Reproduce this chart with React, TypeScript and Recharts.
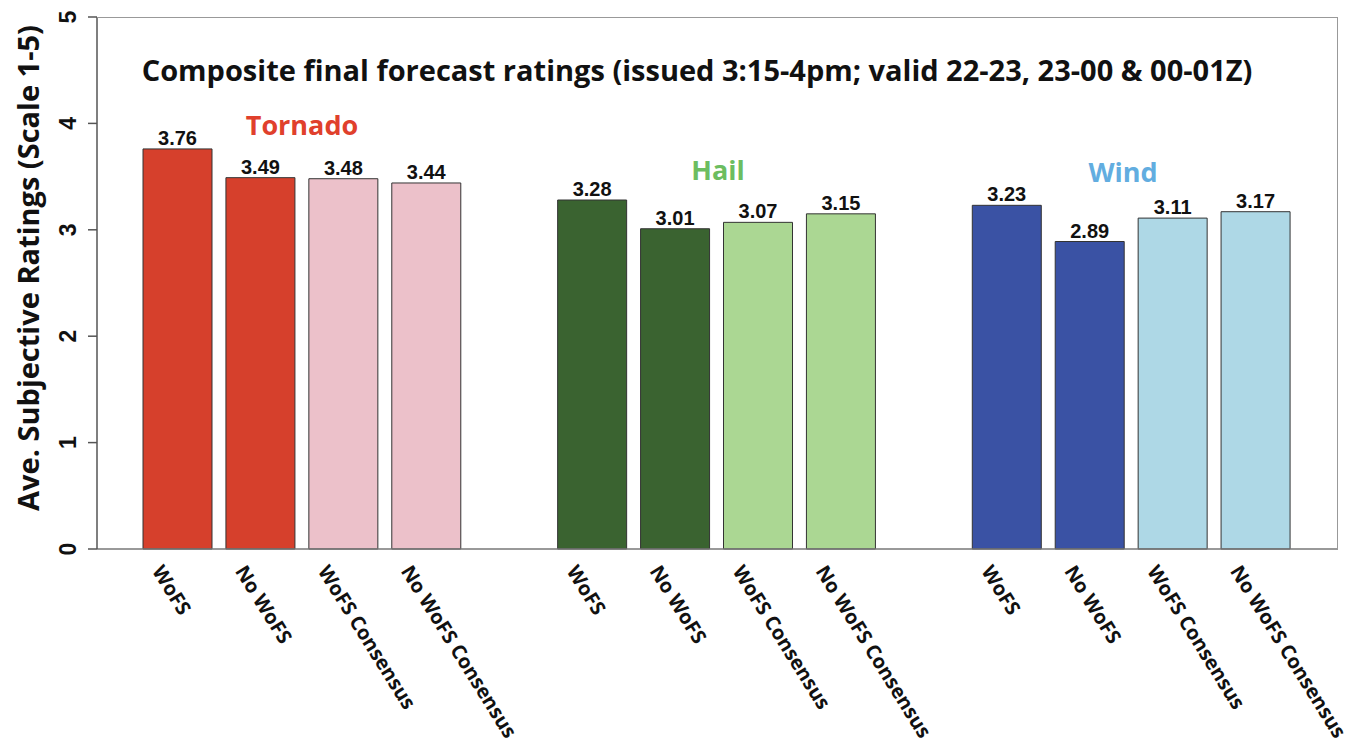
import { Bar, BarChart, Cell, LabelList, XAxis, YAxis } from "recharts";

// 14 slots: three groups of four, with an empty slot between groups
const categories = [
  "WoFS", "No WoFS", "WoFS Consensus", "No WoFS Consensus", "",
  "WoFS", "No WoFS", "WoFS Consensus", "No WoFS Consensus", "",
  "WoFS", "No WoFS", "WoFS Consensus", "No WoFS Consensus",
];
const ratings: (number | null)[] = [
  3.76, 3.49, 3.48, 3.44, null,
  3.28, 3.01, 3.07, 3.15, null,
  3.23, 2.89, 3.11, 3.17,
];
const barColors = [
  "#d6402c", "#d6402c", "#ecc1ca", "#ecc1ca", "none",
  "#3a6330", "#3a6330", "#abd793", "#abd793", "none",
  "#3a52a4", "#3a52a4", "#aed8e6", "#aed8e6",
];
const yTicks = [0, 1, 2, 3, 4, 5];

const data = categories.map((label, i) => ({ id: `c${i}`, label, value: ratings[i] }));

const W = 1347;
const H = 744;
const sans = "'Open Sans', sans-serif";
const helv = "'Liberation Sans', Arial, sans-serif";

function XTick({ x, y, payload }: { x?: number; y?: number; payload?: { index: number } }) {
  const label = categories[payload?.index ?? 0];
  const ax = (x ?? 0) - 26;
  const ay = (y ?? 0) + 14;
  return (
    <text
      x={ax}
      y={ay}
      transform={`rotate(58, ${ax}, ${ay})`}
      textAnchor="start"
      fontFamily={sans}
      fontWeight={700}
      fontSize={20}
      fill="#111"
    >
      {label}
    </text>
  );
}

function YTick({ y, payload }: { y?: number; payload?: { value: number } }) {
  const ax = 76;
  return (
    <text
      x={ax}
      y={y}
      transform={`rotate(-90, ${ax}, ${y})`}
      textAnchor="middle"
      fontFamily={helv}
      fontWeight={700}
      fontSize={23}
      fill="#111"
    >
      {payload?.value}
    </text>
  );
}

export default function App() {
  return (
    <div style={{ position: "absolute", left: 0, top: 0, width: W, height: H, background: "#fff" }}>
      <BarChart width={W} height={H} data={data} margin={{ top: 17, right: 9, bottom: 0, left: 0 }}>
        <XAxis
          dataKey="id"
          height={195}
          padding={{ left: 39, right: 41 }}
          axisLine={{ stroke: "#777", strokeWidth: 1.5 }}
          tickLine={false}
          tick={<XTick />}
          interval={0}
        />
        <YAxis
          width={97}
          domain={[0, 5]}
          ticks={yTicks}
          axisLine={{ stroke: "#555", strokeWidth: 1.5 }}
          tickLine={{ stroke: "#555", strokeWidth: 1.5 }}
          tickSize={9}
          tick={<YTick />}
        />
        <Bar dataKey="value" barSize={69} stroke="#333" strokeWidth={1} isAnimationActive={false}>
          {data.map((d, i) => (
            <Cell key={d.id} fill={barColors[i]} />
          ))}
          <LabelList
            dataKey="value"
            position="top"
            offset={4}
            formatter={(v: unknown) => (typeof v === "number" ? v.toFixed(2) : "")}
            style={{ fontFamily: helv, fontWeight: 700, fontSize: 20, fill: "#111" }}
          />
        </Bar>
      </BarChart>
      <div
        style={{
          position: "absolute",
          left: 97,
          top: 17,
          width: 1241,
          height: 532,
          borderTop: "1.5px solid #999",
          borderRight: "1.5px solid #999",
          boxSizing: "border-box",
          pointerEvents: "none",
        }}
      />
      <svg width={W} height={H} style={{ position: "absolute", left: 0, top: 0, pointerEvents: "none" }}>
        <text x={697} y={81} textAnchor="middle" fontFamily={sans} fontWeight={700} fontSize={29} fill="#111">
          Composite final forecast ratings (issued 3:15-4pm; valid 22-23, 23-00 &amp; 00-01Z)
        </text>
        <text
          x={39}
          y={268}
          transform="rotate(-90, 39, 268)"
          textAnchor="middle"
          fontFamily={sans}
          fontWeight={700}
          fontSize={29}
          fill="#111"
        >
          Ave. Subjective Ratings (Scale 1-5)
        </text>
        <text x={302} y={135} textAnchor="middle" fontFamily={sans} fontWeight={700} fontSize={27} fill="#e0402c">
          Tornado
        </text>
        <text x={718} y={180} textAnchor="middle" fontFamily={sans} fontWeight={700} fontSize={27} fill="#6cbd60">
          Hail
        </text>
        <text x={1123} y={182} textAnchor="middle" fontFamily={sans} fontWeight={700} fontSize={27} fill="#62ade0">
          Wind
        </text>
      </svg>
    </div>
  );
}
